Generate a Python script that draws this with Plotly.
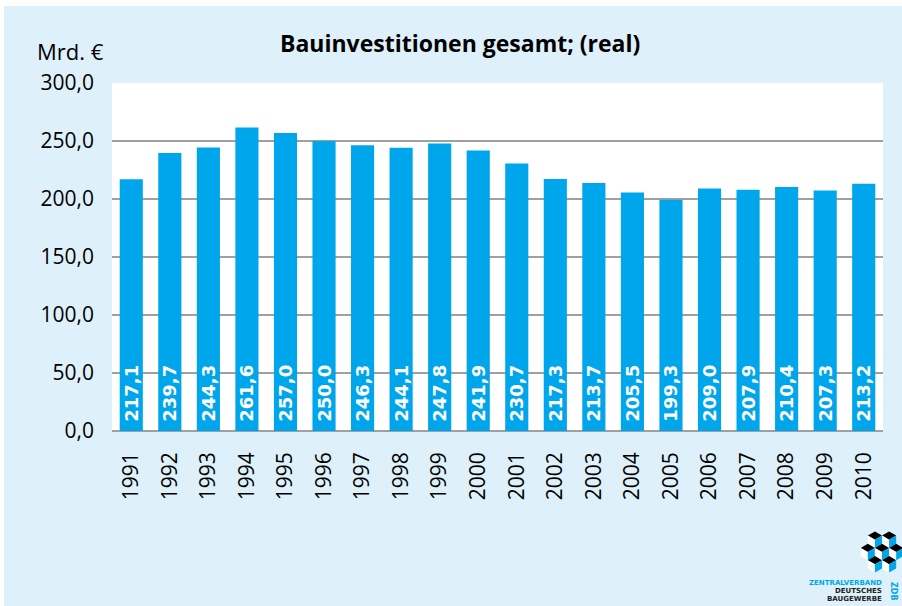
import plotly.graph_objects as go

years = ["1991", "1992", "1993", "1994", "1995", "1996", "1997", "1998", "1999", "2000",
         "2001", "2002", "2003", "2004", "2005", "2006", "2007", "2008", "2009", "2010"]
values = [217.1, 239.7, 244.3, 261.6, 257.0, 250.0, 246.3, 244.1, 247.8, 241.9,
          230.7, 217.3, 213.7, 205.5, 199.3, 209.0, 207.9, 210.4, 207.3, 213.2]
y_ticks = [0, 50, 100, 150, 200, 250, 300]
title_text = "Bauinvestitionen gesamt; (real)"
unit_text = "Mrd. €"

W, H = 902, 606
L, R, T, B = 112, 19, 83, 175
PW, PH = W - L - R, H - T - B


def px(x):
    return (x - L) / PW


def py(y):
    return (H - B - y) / PH


BLUE = "#00A6EB"
BG = "#DEF0FA"

labels = ["\u00a0" + f"{v:.1f}".replace(".", ",") for v in values]

fig = go.Figure(go.Bar(
    x=years, y=values, marker_color=BLUE, marker_line_width=0,
    text=labels, textposition="inside", insidetextanchor="start",
    textangle=-90, constraintext="none",
    textfont=dict(family="DejaVu Sans", size=18, color="white", weight="bold"),
))

shapes = []
# white border strips (top, left)
shapes.append(dict(type="rect", xref="paper", yref="paper", x0=px(0), x1=px(W), y0=py(0), y1=py(6),
                   fillcolor="white", line_width=0, layer="below"))
shapes.append(dict(type="rect", xref="paper", yref="paper", x0=px(0), x1=px(4), y0=py(0), y1=py(H),
                   fillcolor="white", line_width=0, layer="below"))

# logo cubes
r = 8.2
cx0, cy0 = 882, 552
dx, dy = 0.866 * r * 2, 1.5 * r
centers = [(cx0 - dx / 2, cy0 - dy), (cx0 + dx / 2, cy0 - dy),
           (cx0 - dx, cy0), (cx0, cy0), (cx0 + dx, cy0),
           (cx0 - dx / 2, cy0 + dy), (cx0 + dx / 2, cy0 + dy)]


def path(pts):
    return "M " + " L ".join(f"{px(a):.5f},{py(b):.5f}" for a, b in pts) + " Z"


for (cx, cy) in centers:
    top = (cx, cy - r)
    ur = (cx + 0.866 * r, cy - r / 2)
    lr = (cx + 0.866 * r, cy + r / 2)
    bot = (cx, cy + r)
    ll = (cx - 0.866 * r, cy + r / 2)
    ul = (cx - 0.866 * r, cy - r / 2)
    c = (cx, cy)
    shapes.append(dict(type="path", xref="paper", yref="paper", path=path([top, ur, c, ul]),
                       fillcolor="black", line_width=0))
    shapes.append(dict(type="path", xref="paper", yref="paper", path=path([ul, c, bot, ll]),
                       fillcolor="white", line_width=0))
    shapes.append(dict(type="path", xref="paper", yref="paper", path=path([c, ur, lr, bot]),
                       fillcolor=BLUE, line_width=0))

annotations = [
    dict(text=f"<b>{title_text}</b>", x=px(460), y=py(43), xref="paper", yref="paper",
         xanchor="center", yanchor="middle", showarrow=False,
         font=dict(family="Open Sans", size=23, color="black")),
    dict(text=unit_text, x=px(35), y=py(51), xref="paper", yref="paper",
         xanchor="left", yanchor="middle", showarrow=False,
         font=dict(family="Open Sans", size=22, color="black")),
    dict(text="<b>ZENTRALVERBAND</b>", x=px(884), y=py(583), xref="paper", yref="paper",
         xanchor="right", yanchor="middle", showarrow=False,
         font=dict(family="DejaVu Sans", size=7, color=BLUE)),
    dict(text="<b>DEUTSCHES</b>", x=px(884), y=py(591), xref="paper", yref="paper",
         xanchor="right", yanchor="middle", showarrow=False,
         font=dict(family="DejaVu Sans", size=7, color="#222222")),
    dict(text="<b>BAUGEWERBE</b>", x=px(884), y=py(599), xref="paper", yref="paper",
         xanchor="right", yanchor="middle", showarrow=False,
         font=dict(family="DejaVu Sans", size=7, color="#222222")),
    dict(text="<b>ZDB</b>", x=px(894), y=py(591), xref="paper", yref="paper",
         xanchor="center", yanchor="middle", showarrow=False, textangle=90,
         font=dict(family="DejaVu Sans", size=8, color=BLUE)),
]

fig.update_layout(
    width=W, height=H,
    margin=dict(l=L, r=R, t=T, b=B, pad=0),
    paper_bgcolor=BG, plot_bgcolor="white",
    bargap=0.4, showlegend=False,
    separators=",.",
    shapes=shapes, annotations=annotations,
    xaxis=dict(tickangle=-90, showgrid=False, showline=False, ticks="",
               ticklabelstandoff=16,
               tickfont=dict(family="Open Sans", size=21, color="black")),
    yaxis=dict(range=[0, 300], tickvals=y_ticks, tickformat=".1f",
               showgrid=True, gridcolor="#A0A0A0", gridwidth=2,
               zeroline=True, zerolinecolor="#A0A0A0", zerolinewidth=2,
               showline=False, ticks="", ticklabelstandoff=17,
               tickfont=dict(family="Open Sans", size=21, color="black")),
)

fig.write_html("out.html", config={"displayModeBar": False},
               post_script="document.body.style.margin='0';")
